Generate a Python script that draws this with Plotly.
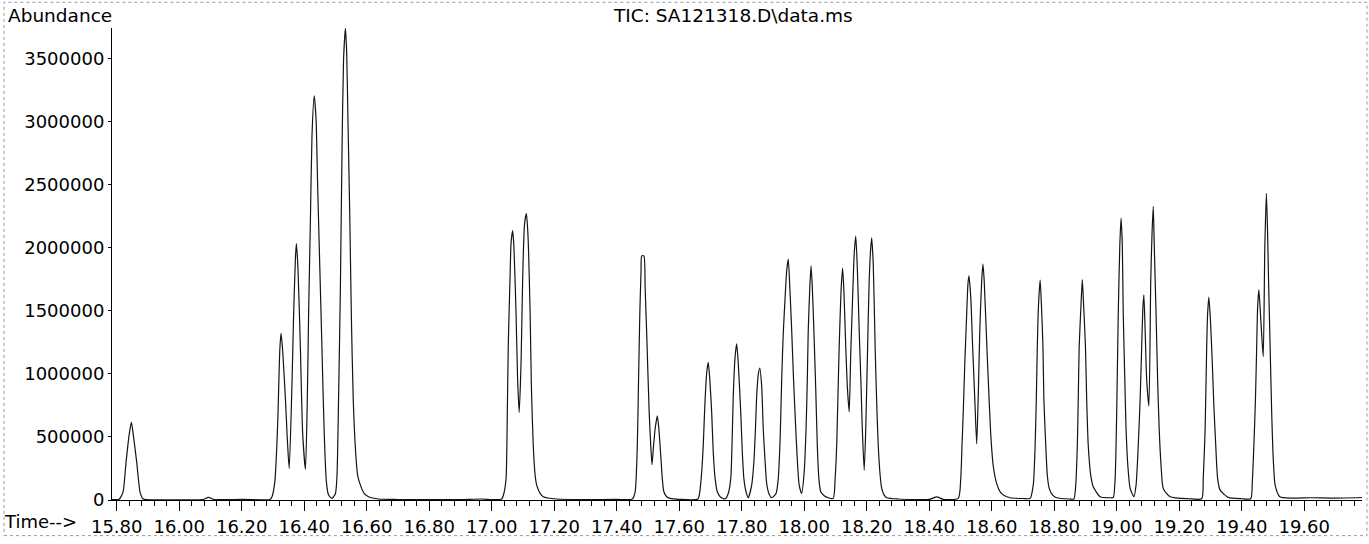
import plotly.graph_objects as go

# Total ion chromatogram trace: retention time (min) and abundance vertices
time_min = [
    # 15.85 peak and early baseline
    15.785, 15.800, 15.808, 15.820, 15.830, 15.840, 15.847, 15.853, 15.864, 15.875, 15.884, 15.895,
    16.000, 16.075, 16.094, 16.112, 16.150, 16.200, 16.260, 16.290,
    # 16.3-16.6 cluster
    16.297, 16.306, 16.312, 16.316, 16.322, 16.326, 16.331, 16.340, 16.346, 16.352,
    16.361, 16.366, 16.372, 16.375, 16.380, 16.388, 16.395, 16.404,
    16.410, 16.414, 16.420, 16.425, 16.432, 16.438, 16.443, 16.450, 16.457, 16.464, 16.471, 16.478, 16.489,
    16.500, 16.505, 16.510, 16.516, 16.521, 16.526, 16.532, 16.536, 16.540, 16.546, 16.551, 16.557,
    16.564, 16.571, 16.580, 16.592, 16.606, 16.638,
    16.700, 16.800, 16.900, 16.970, 17.000,
    # 17.07 / 17.11 pair
    17.032, 17.039, 17.046, 17.050, 17.053, 17.059, 17.062, 17.067, 17.071, 17.078, 17.083, 17.088,
    17.094, 17.099, 17.105, 17.111, 17.116, 17.123, 17.127, 17.133, 17.139, 17.144, 17.155, 17.165, 17.208,
    17.300, 17.400,
    # 17.48 / 17.53 pair
    17.450, 17.459, 17.466, 17.470, 17.474, 17.478, 17.480, 17.487, 17.491, 17.496, 17.504, 17.509, 17.513,
    17.518, 17.523, 17.530, 17.535, 17.541, 17.546, 17.551, 17.560, 17.571,
    17.600, 17.660,
    # 17.69 - 18.22 series
    17.666, 17.672, 17.677, 17.682, 17.688, 17.693, 17.698, 17.704, 17.709, 17.715, 17.722, 17.731, 17.747,
    17.757, 17.765, 17.769, 17.773, 17.779, 17.784, 17.789, 17.797, 17.802, 17.807, 17.814, 17.821,
    17.832, 17.839, 17.844, 17.848, 17.853, 17.858, 17.864, 17.869, 17.875, 17.880, 17.887, 17.896,
    17.910, 17.917, 17.923, 17.928, 17.933, 17.939, 17.944, 17.949, 17.954, 17.960, 17.966, 17.973,
    17.979, 17.984, 17.992,
    18.000, 18.006, 18.010, 18.013, 18.018, 18.022, 18.026, 18.031, 18.037, 18.042, 18.047, 18.053,
    18.064, 18.077, 18.093,
    18.099, 18.104, 18.108, 18.112, 18.118, 18.123, 18.127, 18.133, 18.138, 18.144,
    18.149, 18.155, 18.160, 18.165, 18.170, 18.176, 18.182, 18.186, 18.192,
    18.197, 18.203, 18.208, 18.213, 18.216, 18.221, 18.227, 18.232, 18.237, 18.243, 18.248, 18.256, 18.264,
    18.300, 18.400, 18.424, 18.445,
    # 18.53 / 18.57 pair
    18.493, 18.501, 18.505, 18.509, 18.514, 18.520, 18.524, 18.527, 18.533, 18.539, 18.546, 18.552,
    18.557, 18.562, 18.568, 18.572, 18.576, 18.584, 18.590, 18.597, 18.605, 18.616, 18.627, 18.640,
    18.659, 18.700,
    # 18.76 and 18.89 peaks
    18.723, 18.733, 18.739, 18.743, 18.746, 18.750, 18.755, 18.759, 18.764, 18.767, 18.773, 18.778,
    18.784, 18.795, 18.808, 18.850,
    18.863, 18.869, 18.874, 18.877, 18.880, 18.886, 18.890, 18.894, 18.900, 18.904, 18.909, 18.917,
    18.925, 18.947, 18.979,
    # 19.01 - 19.12 group
    18.989, 18.995, 19.000, 19.005, 19.010, 19.014, 19.018, 19.021, 19.026, 19.030, 19.036, 19.043, 19.055,
    19.062, 19.069, 19.075, 19.080, 19.084, 19.087, 19.091, 19.096, 19.103,
    19.109, 19.113, 19.117, 19.120, 19.126, 19.131, 19.136, 19.142, 19.149, 19.171, 19.230,
    # 19.30 peak
    19.272, 19.277, 19.283, 19.288, 19.291, 19.295, 19.300, 19.306, 19.311, 19.317, 19.323, 19.331,
    19.357, 19.400,
    # 19.46 / 19.48 pair and tail
    19.429, 19.434, 19.439, 19.444, 19.448, 19.451, 19.455, 19.460, 19.465, 19.469, 19.474, 19.479,
    19.483, 19.486, 19.491, 19.496, 19.501, 19.507, 19.522,
    19.560, 19.620, 19.700, 19.785,
]

abundance = [
    3000, 3000, 6000, 60000, 300000, 520000, 615000, 520000, 300000, 60000, 10000, 3000,
    2000, 3000, 21000, 4000, 3000, 5000, 2000, 3000,
    26000, 144000, 405000, 667000, 1190000, 1321000, 1190000, 798000, 484000, 249000,
    929000, 1452000, 1923000, 2033000, 1845000, 1190000, 536000, 243000,
    798000, 1452000, 2237000, 2891000, 3205000, 3022000, 2500000, 1845000, 1190000, 536000, 144000, 39000, 13000,
    52000, 196000, 798000, 1713000, 2760000, 3493000, 3741000, 3545000, 3020000, 2237000, 1452000, 798000,
    405000, 196000, 118000, 52000, 26000, 8000,
    4000, 3000, 3000, 8000, 3000,
    8000, 52000, 170000, 693000, 1217000, 1792000, 2040000, 2137000, 2014000, 1478000, 955000, 693000,
    1086000, 1740000, 2185000, 2271000, 2106000, 1478000, 903000, 432000, 196000, 118000, 52000, 26000, 8000,
    4000, 5000,
    8000, 65000, 432000, 955000, 1478000, 1818000, 1936000, 1936000, 1688000, 1321000, 693000, 432000, 280000,
    432000, 563000, 667000, 563000, 353000, 170000, 65000, 26000, 13000,
    5000, 8000,
    65000, 222000, 432000, 746000, 1007000, 1091000, 955000, 693000, 379000, 170000, 65000, 26000, 8000,
    52000, 170000, 432000, 824000, 1138000, 1238000, 1086000, 693000, 379000, 170000, 65000, 18000,
    118000, 301000, 563000, 824000, 994000, 1046000, 903000, 563000, 301000, 131000, 52000, 18000,
    52000, 170000, 484000, 955000, 1321000, 1609000, 1818000, 1910000, 1688000, 1347000, 955000, 563000,
    275000, 118000, 52000,
    222000, 563000, 955000, 1347000, 1688000, 1858000, 1688000, 1347000, 877000, 432000, 170000, 65000,
    34000, 18000, 13000,
    170000, 432000, 824000, 1217000, 1661000, 1839000, 1661000, 1217000, 903000, 699000,
    1164000, 1609000, 1949000, 2093000, 1844000, 1347000, 903000, 563000, 235000,
    563000, 1217000, 1740000, 2000000, 2080000, 1871000, 1217000, 772000, 432000, 196000, 92000, 39000, 18000,
    8000, 5000, 24000, 5000,
    13000, 170000, 432000, 693000, 1086000, 1478000, 1714000, 1779000, 1609000, 1217000, 798000, 445000,
    824000, 1347000, 1740000, 1871000, 1740000, 1250000, 900000, 520000, 270000, 130000, 65000, 35000,
    18000, 12000,
    13000, 118000, 432000, 824000, 1217000, 1556000, 1745000, 1556000, 1217000, 798000, 432000, 196000,
    92000, 39000, 18000, 8000,
    8000, 118000, 432000, 798000, 1217000, 1556000, 1748000, 1556000, 1217000, 798000, 432000, 196000,
    105000, 26000, 18000,
    20000, 170000, 693000, 1478000, 2020000, 2237000, 2020000, 1478000, 955000, 563000, 262000, 92000, 26000,
    118000, 432000, 798000, 1217000, 1530000, 1627000, 1347000, 955000, 746000,
    1740000, 2106000, 2329000, 2040000, 1478000, 955000, 563000, 275000, 92000, 26000, 10000,
    10000, 170000, 563000, 1217000, 1478000, 1609000, 1426000, 1086000, 746000, 432000, 170000, 78000,
    21000, 10000,
    10000, 144000, 432000, 798000, 1217000, 1530000, 1667000, 1478000, 1270000, 1138000, 2000000, 2433000,
    2106000, 1740000, 1217000, 693000, 327000, 118000, 26000,
    15000, 18000, 15000, 20000,
]

title_text = "TIC: SA121318.D\\data.ms"
y_label = "Abundance"
x_label = "Time-->"

W, H = 1369, 544
ML, MR, MT, MB = 112, 7, 28, 39
plot_w = W - ML - MR
plot_h = H - MT - MB


def px_to_paper_x(px):
    return (px - ML) / plot_w


def px_to_paper_y(py):
    return (H - MB - py) / plot_h


FONT = "DejaVu Sans, Liberation Sans, Arial, sans-serif"

fig = go.Figure()
fig.add_trace(
    go.Scatter(
        x=time_min,
        y=abundance,
        mode="lines",
        line=dict(color="#141414", width=1.2, shape="spline", smoothing=0.6),
        hoverinfo="x+y",
        showlegend=False,
    )
)

fig.update_layout(
    width=W,
    height=H,
    margin=dict(l=ML, r=MR, t=MT, b=MB, pad=0),
    paper_bgcolor="white",
    plot_bgcolor="white",
    font=dict(family=FONT, size=18, color="black"),
    xaxis=dict(
        range=[15.785, 19.785],
        tick0=15.8,
        dtick=0.2,
        tickformat=".2f",
        ticks="outside",
        ticklen=10,
        tickwidth=1,
        tickcolor="black",
        showline=True,
        linecolor="black",
        linewidth=1,
        showgrid=False,
        zeroline=False,
        tickfont=dict(family=FONT, size=18, color="black"),
        minor=dict(dtick=0.04, tick0=15.8, ticks="outside", ticklen=5, tickcolor="black", showgrid=False),
    ),
    yaxis=dict(
        range=[0, plot_h * 500000 / 63.7],
        tick0=0,
        dtick=500000,
        tickformat="d",
        ticks="outside",
        ticklen=3,
        tickcolor="black",
        showline=True,
        linecolor="black",
        linewidth=1,
        showgrid=False,
        zeroline=False,
        tickfont=dict(family=FONT, size=18, color="black"),
    ),
    annotations=[
        dict(
            text=title_text, xref="paper", yref="paper",
            x=px_to_paper_x(733), y=px_to_paper_y(15),
            xanchor="center", yanchor="middle", showarrow=False,
            font=dict(family=FONT, size=18.5, color="black"),
        ),
        dict(
            text=y_label, xref="paper", yref="paper",
            x=px_to_paper_x(6), y=px_to_paper_y(15),
            xanchor="left", yanchor="middle", showarrow=False,
            font=dict(family=FONT, size=18.5, color="black"),
        ),
        dict(
            text=x_label, xref="paper", yref="paper",
            x=px_to_paper_x(2), y=px_to_paper_y(527),
            xanchor="left", yanchor="middle", showarrow=False,
            font=dict(family=FONT, size=18, color="black"),
        ),
    ],
    shapes=[
        dict(
            type="rect", xref="paper", yref="paper",
            x0=px_to_paper_x(4), x1=px_to_paper_x(1367),
            y0=px_to_paper_y(541), y1=px_to_paper_y(2),
            line=dict(color="#999999", width=1, dash="dot"),
            layer="below",
        )
    ],
)

fig.write_html("out.html")
